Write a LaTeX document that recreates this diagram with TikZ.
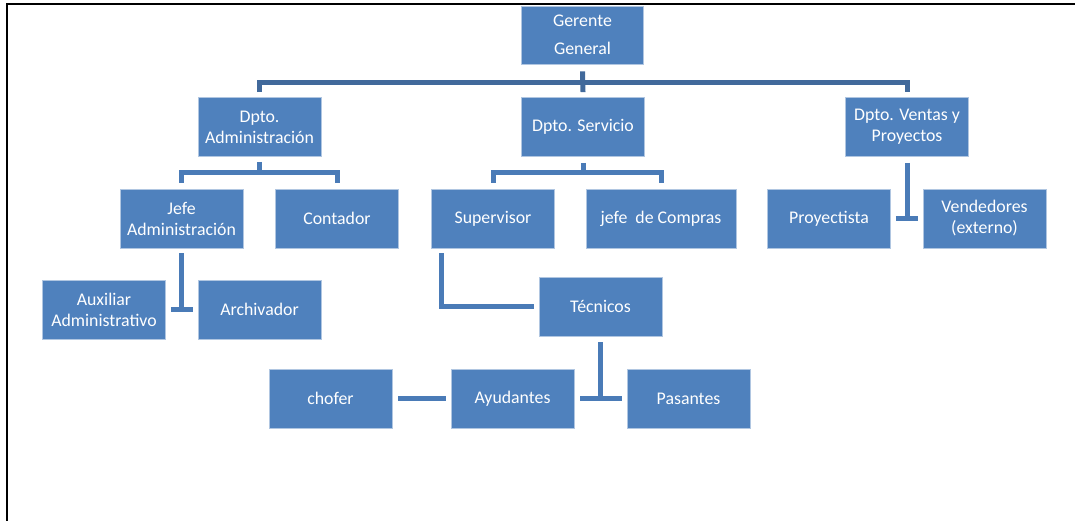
\documentclass[tikz,border=0pt]{standalone}
\usepackage{fontspec}
\setmainfont{Carlito}
\usepackage{xcolor}
\definecolor{boxblue}{HTML}{4F81BD}
\definecolor{linkblue}{HTML}{4A7BB7}
\definecolor{busblue}{HTML}{41699B}

\begin{document}
\begin{tikzpicture}[x=1pt, y=-1pt,
    box/.style={draw=white!55!boxblue, line width=0.8pt, fill=boxblue, text=white,
      minimum width=123pt, minimum height=59pt, inner sep=0pt, align=center,
      font=\fontsize{17.8}{21}\selectfont},
    conn/.style={draw=linkblue, line width=5pt},
    bus/.style={draw=busblue, line width=5pt}]
  \useasboundingbox (0,0) rectangle (1075,521);
  % frame
  \draw[black, line width=2pt] (7,521) -- (7,4.3) -- (1075,4.3);

  % top level
  \node[box, minimum width=122pt, minimum height=58pt] (gg) at (582.5,35) {Gerente\\[7pt]General};
  \node[box] (dadm) at (259.5,127) {Dpto.\\Administración};
  \node[box] (dserv) at (583,127) {Dpto. Servicio};
  \node[box] (dvent) at (907,127) {Dpto. Ventas y\\Proyectos};

  % second level
  \node[box] (jefe) at (181.5,218.5) {Jefe\\Administración};
  \node[box] (cont) at (337,218.5) {Contador};
  \node[box] (sup) at (493,218.5) {Supervisor};
  \node[box, minimum width=150pt] (comp) at (661,218.5) {jefe\ \ de Compras};
  \node[box] (proy) at (829,218.5) {Proyectista};
  \node[box] (vend) at (984.5,218.5) {Vendedores\\(externo)};

  % third level
  \node[box] (aux) at (104,309.5) {Auxiliar\\Administrativo};
  \node[box] (arch) at (259.5,309.5) {Archivador};
  \node[box] (tec) at (600.5,306.5) {Técnicos};
  \node[box] (chof) at (330.5,398.5) {chofer};
  \node[box] (ayud) at (512.5,398.5) {Ayudantes};
  \node[box] (pas) at (688.5,398.5) {Pasantes};

  % connectors
  \draw[bus] ([yshift=-7pt]gg.south) -- ([yshift=5pt]dserv.north);
  \draw[bus] ([yshift=5pt]dadm.north) -- ([yshift=15pt]dadm.north) -| ([yshift=5pt]dvent.north);

  \draw[conn] ([yshift=-5pt]dadm.south) -- ([yshift=-17pt]dadm.south);
  \draw[conn] ([yshift=6pt]jefe.north) -- ([yshift=16pt]jefe.north) -| ([yshift=6pt]cont.north);
  \draw[conn] ([yshift=-6pt]dserv.south) -- ([yshift=-17pt]dserv.south);
  \draw[conn] ([yshift=6pt]sup.north) -- ([yshift=16pt]sup.north) -| ([yshift=6pt]comp.north);
  \draw[conn] ([yshift=-6pt]dvent.south) -- (dvent.south |- proy.east);
  \draw[conn] ([xshift=5pt]proy.east) -- ([xshift=-5pt]vend.west);

  \draw[conn] ([yshift=-5pt]jefe.south) -- (jefe.south |- aux.east);
  \draw[conn] ([xshift=5pt]aux.east) -- ([xshift=-5pt]arch.west);
  \draw[conn] ([xshift=10pt,yshift=-5pt]sup.south west) |- ([xshift=-5pt]tec.west);

  \draw[conn] ([yshift=-6pt]tec.south) -- (tec.south |- ayud.east);
  \draw[conn] ([xshift=6pt]ayud.east) -- ([xshift=-5pt]pas.west);
  \draw[conn] ([xshift=6pt]chof.east) -- ([xshift=-5pt]ayud.west);
\end{tikzpicture}
\end{document}
